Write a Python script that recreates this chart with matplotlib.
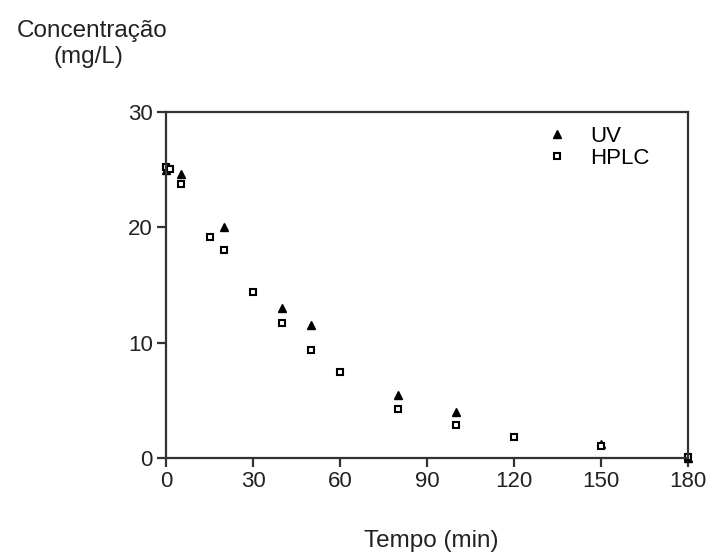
import numpy as np
import matplotlib.pyplot as plt

plt.rcParams['font.family'] = ['Liberation Sans', 'DejaVu Sans']

t_uv = [0, 5, 20, 40, 50, 80, 100, 150, 180]
c_uv = [25.0, 24.6, 20.0, 13.0, 11.5, 5.5, 4.0, 1.2, 0.0]

t_hplc = [0, 1.5, 5, 15, 20, 30, 40, 50, 60, 80, 100, 120, 150, 180]
c_hplc = [25.2, 25.1, 23.8, 19.2, 18.0, 14.4, 11.7, 9.4, 7.5, 4.25, 2.9, 1.8, 1.0, 0.1]

fig = plt.figure(figsize=(7.12, 5.6), dpi=100)
ax = fig.add_axes([166/712, 1 - 458/560, 522/712, 346/560])

ax.plot(t_uv, c_uv, linestyle='none', marker='^', color='black', ms=6, label='UV', clip_on=False)
ax.plot(t_hplc, c_hplc, linestyle='none', marker='s', mfc='white', mec='black', mew=1.5, ms=5,
        label='HPLC', clip_on=False)

ax.set_xlim(0, 180)
ax.set_ylim(0, 30)
ax.set_xticks(range(0, 181, 30))
ax.set_yticks([0, 10, 20, 30])
for s in ax.spines.values():
    s.set_linewidth(1.6)
    s.set_color('#333333')
ax.tick_params(direction='out', length=6.5, width=1.6, labelsize=16, pad=3, colors='#333333',
               labelcolor='#222222')

leg = ax.legend(loc='upper left', bbox_to_anchor=(537/712, 1 - 117/560), bbox_transform=fig.transFigure,
                borderaxespad=0, frameon=False, fontsize=16, handletextpad=1.0,
                labelspacing=0.05, handlelength=1.0)

fig.text(92/712, 1 - 31/560, 'Concentração', ha='center', va='center', fontsize=17.5, color='#222222')
fig.text(88/712, 1 - 57/560, '(mg/L)', ha='center', va='center', fontsize=17.5, color='#222222')
fig.text(431/712, 1 - 541/560, 'Tempo (min)', ha='center', va='center', fontsize=17.5, color='#222222')

fig.savefig('out.png', dpi=100)
